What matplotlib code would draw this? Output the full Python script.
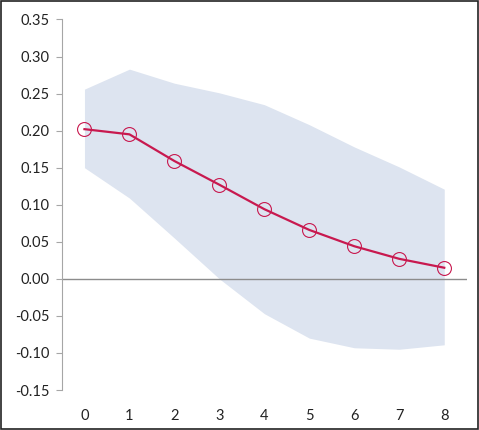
import matplotlib
matplotlib.use("Agg")
import matplotlib.pyplot as plt
from matplotlib.patches import Rectangle

plt.rcParams['font.family'] = ['Lato', 'DejaVu Sans']

periods = [0, 1, 2, 3, 4, 5, 6, 7, 8]
response = [0.202, 0.195, 0.159, 0.127, 0.094, 0.066, 0.044, 0.027, 0.015]
upper = [0.256, 0.283, 0.264, 0.251, 0.235, 0.208, 0.178, 0.151, 0.121]
lower = [0.150, 0.109, 0.055, 0.000, -0.047, -0.080, -0.093, -0.095, -0.089]
yticks = [-0.15, -0.10, -0.05, 0.00, 0.05, 0.10, 0.15, 0.20, 0.25, 0.30, 0.35]

fig = plt.figure(figsize=(4.79, 4.30), dpi=100)
ax = fig.add_axes([0.1294, 0.093, 0.845, 0.8617])

ax.fill_between(periods, lower, upper, color='#dde4f0', lw=0, zorder=1)
ax.axhline(0, color='#8c8c8c', lw=1, zorder=2)
ax.plot(periods, response, color='#c8194f', lw=1.6, marker='o', markersize=10,
        markerfacecolor='none', markeredgecolor='#c8194f', markeredgewidth=0.8, zorder=3)

ax.set_xlim(-0.5, 8.5)
ax.set_ylim(-0.15, 0.35)
ax.set_yticks(yticks)
ax.set_yticklabels([f"{v:.2f}" for v in yticks])
ax.set_xticks(periods)
ax.set_xticklabels([str(p) for p in periods])
for s in ['top', 'right', 'bottom']:
    ax.spines[s].set_visible(False)
ax.spines['left'].set_color('#a6a6a6')
ax.tick_params(axis='y', length=4, color='#a6a6a6', labelsize=10.5, labelcolor='#222222', pad=5)
ax.tick_params(axis='x', length=0, labelsize=10.5, labelcolor='#222222', pad=14)

fig.patches.append(Rectangle((0.002, 0.002), 0.996, 0.996, transform=fig.transFigure,
                             fill=False, edgecolor='#222222', lw=1.2))

fig.savefig('out.png', dpi=100)
